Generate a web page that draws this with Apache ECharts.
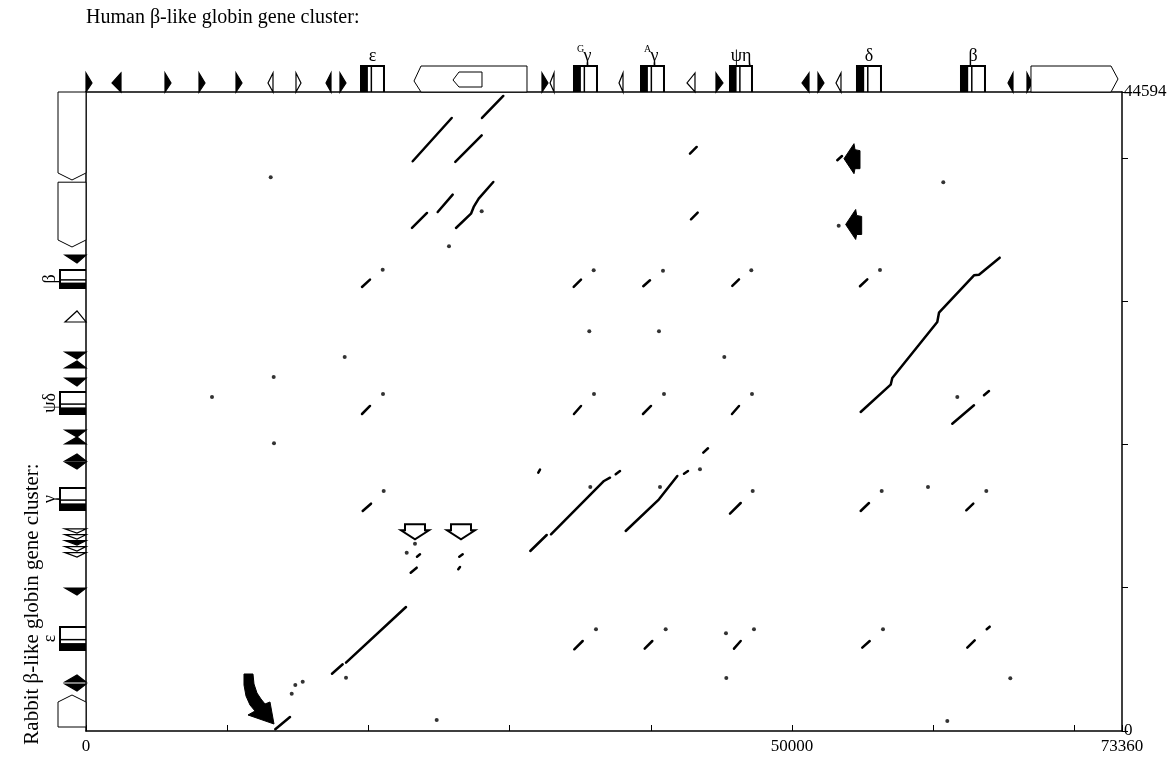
<!DOCTYPE html>
<html>
<head>
<meta charset="utf-8">
<script src="https://cdn.jsdelivr.net/npm/echarts@6/dist/echarts.min.js"></script>
<style>
html, body { margin: 0; padding: 0; background: #fff; }
#chart-container { width: 1176px; height: 758px; }
</style>
</head>
<body>
<div id="chart-container"></div>
<script>
// axis extents (bp)
var xMax = 73360;
var yMax = 44594;
var xLabelValues = [0, 50000, 73360];
var yLabelValues = [0, 44594];

// short matches: [human start, rabbit start, human end, rabbit end]
var segments = [
  [23134, 39759, 25895, 42781],
  [26150, 39711, 28019, 41574],
  [28041, 42781, 29549, 44317],
  [23084, 35104, 24146, 36151],
  [24904, 36221, 25966, 37428],
  [19544, 30987, 20110, 31497],
  [34534, 30987, 35051, 31497],
  [39462, 31036, 39937, 31454],
  [45765, 31057, 46239, 31524],
  [54807, 31036, 55324, 31524],
  [42769, 40290, 43243, 40757],
  [42840, 35712, 43314, 36172],
  [53200, 39829, 53532, 40129],
  [19544, 22123, 20110, 22682],
  [34554, 22123, 35051, 22682],
  [39441, 22123, 40008, 22682],
  [45743, 22123, 46239, 22682],
  [61343, 21447, 62879, 22731],
  [63587, 23428, 63941, 23729],
  [32027, 18027, 32148, 18237],
  [19593, 15354, 20181, 15863],
  [45602, 15166, 46359, 15912],
  [54856, 15354, 55444, 15912],
  [62334, 15403, 62830, 15863],
  [42344, 17957, 42628, 18145],
  [43711, 19423, 44044, 19730],
  [23438, 12164, 23651, 12332],
  [22992, 11048, 23417, 11397],
  [26433, 12164, 26674, 12332],
  [26362, 11285, 26483, 11446],
  [17419, 3999, 18176, 4655],
  [13404, 119, 14445, 977],
  [34577, 5702, 35171, 6281],
  [39562, 5744, 40100, 6281],
  [45885, 5744, 46359, 6281],
  [54970, 5814, 55494, 6281],
  [62405, 5814, 62929, 6330],
  [63779, 7098, 63991, 7279]
];

// longer alignments (polylines)
var alignEpsUpper = [[26200, 35104], [27262, 36103], [27453, 36570], [27807, 37149], [28841, 38315]];
var alignDeltaBeta = [[54856, 22263], [56981, 24168], [57094, 24636], [60280, 28544], [60401, 29193], [62879, 31803], [63233, 31845], [64699, 33032]];
var alignGGamma1 = [[31461, 12562], [32622, 13679]];
var alignGGamma2 = [[32927, 13728], [36680, 17448], [37104, 17678]];
var alignGGamma3 = [[37508, 17915], [37813, 18145]];
var alignAGamma = [[38216, 13958], [40574, 16170], [41871, 17796]];
var alignEps = [[18411, 4767], [22659, 8654]];

// single dots
var dots = [
  [28019, 36270], [25704, 33827], [13079, 38643], [21009, 32194], [35950, 32152],
  [35639, 27895], [18318, 26101], [13291, 24706], [8922, 23310],
  [21031, 23519], [35971, 23519], [40928, 23519], [47159, 23519],
  [53299, 35265], [60705, 38294], [40857, 32125], [47110, 32152], [56223, 32173],
  [40574, 27895], [45198, 26101], [61697, 23310],
  [13312, 20079], [21080, 16750], [23296, 13072], [22709, 12444], [35710, 17029],
  [18411, 3720], [15345, 3441], [14821, 3210], [14566, 2603], [24833, 768], [36113, 7098],
  [43477, 18264], [40645, 17029], [47209, 16750], [56343, 16750], [59622, 17029],
  [63750, 16750], [41048, 7098], [47301, 7098], [45318, 6819], [56436, 7098],
  [45340, 3699], [65450, 3678], [60989, 698]
];

// gene maps
var humanGenes = [
  { name: 'ε', sup: '', start: 19473, end: 21101 },
  { name: 'γ', sup: 'G', start: 34555, end: 36184 },
  { name: 'γ', sup: 'A', start: 39300, end: 40928 },
  { name: 'ψη', sup: '', start: 45601, end: 47159 },
  { name: 'δ', sup: '', start: 54594, end: 56294 },
  { name: 'β', sup: '', start: 61959, end: 63658 }
];
// [start, end, kind]  R/L filled, oR/oL open, LL/LR long element, LLi inner
var humanRepeats = [
  [0, 354, 'R'], [1912, 2478, 'L'], [5594, 5948, 'R'], [8002, 8356, 'R'], [10622, 10976, 'R'],
  [12958, 13241, 'oL'], [14870, 15153, 'oR'], [17065, 17348, 'L'], [17985, 18339, 'R'],
  [23226, 31227, 'LL'], [25987, 28041, 'LLi'], [32289, 32643, 'R'], [32930, 33140, 'oL'],
  [37813, 38025, 'oL'], [42628, 43123, 'oL'], [44610, 45035, 'R'],
  [50771, 51196, 'L'], [51833, 52187, 'R'], [53178, 53461, 'oL'],
  [65357, 65640, 'L'], [66632, 66915, 'R'], [66915, 73077, 'LR']
];
var rabbitGenes = [
  { name: 'ε', start: 5653, end: 7258 },
  { name: 'γ', start: 15424, end: 16959 },
  { name: 'ψδ', start: 22123, end: 23659 },
  { name: 'β', start: 30917, end: 32173 }
];
var rabbitRepeats = [
  [279, 2512, 'LU'], [2861, 3280, 'D'], [3420, 3838, 'U'], [9561, 9980, 'D'],
  [12213, 12450, 'oD'], [12632, 12870, 'oD'], [13051, 13290, 'D'], [13469, 13700, 'oD'], [13888, 14100, 'oD'],
  [18355, 18773, 'D'], [18843, 19262, 'U'], [20030, 20448, 'U'], [20588, 21007, 'D'],
  [24147, 24636, 'D'], [25334, 25752, 'U'], [26032, 26450, 'D'], [28544, 29242, 'oU'],
  [32731, 33220, 'D'], [33778, 38300, 'LD'], [38454, 44594, 'LD']
];

// annotation arrows (tip positions)
var filledArrows = [[53674, 39941], [53794, 35349]];
var openArrows = [[23296, 13379], [26554, 13379]];
var curvedArrows = [[13312, 489]];

var serif = '"Liberation Serif", "DejaVu Serif", serif';

var dom = document.getElementById('chart-container');
var myChart = echarts.init(dom, null, { renderer: 'canvas' });

function poly(points, fill, stroke, lw) {
  return { type: 'polygon', shape: { points: points }, style: { fill: fill, stroke: stroke, lineWidth: lw || 1.2 } };
}

function renderSegment(params, api) {
  var a = api.coord([api.value(0), api.value(1)]);
  var b = api.coord([api.value(2), api.value(3)]);
  return {
    type: 'line',
    shape: { x1: a[0], y1: a[1], x2: b[0], y2: b[1] },
    style: { stroke: '#000', lineWidth: 2.5, lineCap: 'round' }
  };
}

function renderHumanRepeat(params, api) {
  var r = humanRepeats[params.dataIndex];
  var x1 = api.coord([r[0], yMax])[0];
  var x2 = api.coord([r[1], yMax])[0];
  var top = api.coord([0, yMax])[1];
  var k = r[2];
  if (k === 'R' || k === 'oR') {
    return poly([[x1, top - 19], [x2 + 1, top - 9], [x1, top]], k === 'R' ? '#000' : '#fff', '#000', 1.2);
  }
  if (k === 'L' || k === 'oL') {
    return poly([[x2, top - 19], [x1 - 1, top - 9], [x2, top]], k === 'L' ? '#000' : '#fff', '#000', 1.2);
  }
  if (k === 'LL') {
    return poly([[x1, top - 11], [x1 + 7, top - 26], [x2, top - 26], [x2, top], [x1 + 7, top]], '#fff', '#000', 1);
  }
  if (k === 'LLi') {
    return poly([[x1, top - 12], [x1 + 6, top - 20], [x2, top - 20], [x2, top - 5], [x1 + 6, top - 5]], '#fff', '#000', 1);
  }
  return poly([[x1, top], [x1, top - 26], [x2 - 7, top - 26], [x2, top - 13], [x2 - 7, top]], '#fff', '#000', 1);
}

function renderHumanGene(params, api) {
  var g = humanGenes[params.dataIndex];
  var x1 = api.coord([g.start, yMax])[0];
  var x2 = api.coord([g.end, yMax])[0];
  var top = api.coord([0, yMax])[1];
  var w = x2 - x1;
  var mid = (x1 + x2) / 2;
  var children = [
    { type: 'polyline', shape: { points: [[x1, top], [x1, top - 26], [x2, top - 26], [x2, top]] }, style: { stroke: '#000', lineWidth: 2, fill: null } },
    { type: 'rect', shape: { x: x1, y: top - 26, width: w * 0.3, height: 26 }, style: { fill: '#000' } },
    { type: 'line', shape: { x1: x1 + w * 0.45, y1: top - 26, x2: x1 + w * 0.45, y2: top }, style: { stroke: '#000', lineWidth: 1.5 } },
    { type: 'text', x: mid + (g.sup ? 2 : 0), y: top - 36, style: { text: g.name, font: '18px ' + serif, fill: '#000', align: 'center', verticalAlign: 'middle' } }
  ];
  if (g.sup) {
    children.push({ type: 'text', x: mid - 5, y: top - 43, style: { text: g.sup, font: '10px ' + serif, fill: '#000', align: 'center', verticalAlign: 'middle' } });
  }
  return { type: 'group', children: children };
}

function renderRabbitRepeat(params, api) {
  var r = rabbitRepeats[params.dataIndex];
  var yb = api.coord([0, r[0]])[1];
  var yt = api.coord([0, r[1]])[1];
  var L = api.coord([0, 0])[0];
  var k = r[2];
  if (k === 'D' || k === 'oD') {
    return poly([[L - 21, yt], [L, yt], [L - 9, yb + 1]], k === 'D' ? '#000' : '#fff', '#000', 1.2);
  }
  if (k === 'U' || k === 'oU') {
    return poly([[L - 21, yb], [L, yb], [L - 9, yt - 1]], k === 'U' ? '#000' : '#fff', '#000', 1.2);
  }
  if (k === 'LD') {
    return poly([[L, yt], [L - 28, yt], [L - 28, yb - 7], [L - 14, yb], [L, yb - 7]], '#fff', '#000', 1);
  }
  return poly([[L, yb], [L - 28, yb], [L - 28, yt + 7], [L - 14, yt], [L, yt + 7]], '#fff', '#000', 1);
}

function renderRabbitGene(params, api) {
  var g = rabbitGenes[params.dataIndex];
  var yb = api.coord([0, g.start])[1];
  var yt = api.coord([0, g.end])[1];
  var L = api.coord([0, 0])[0];
  var h = yb - yt;
  return {
    type: 'group',
    children: [
      { type: 'polyline', shape: { points: [[L, yt], [L - 26, yt], [L - 26, yb], [L, yb]] }, style: { stroke: '#000', lineWidth: 2, fill: null } },
      { type: 'rect', shape: { x: L - 26, y: yb - h * 0.3, width: 26, height: h * 0.3 }, style: { fill: '#000' } },
      { type: 'line', shape: { x1: L - 26, y1: yb - h * 0.45, x2: L, y2: yb - h * 0.45 }, style: { stroke: '#000', lineWidth: 1.5 } },
      { type: 'text', x: L - 36, y: (yt + yb) / 2, rotation: Math.PI / 2, style: { text: g.name, font: '18px ' + serif, fill: '#000', align: 'center', verticalAlign: 'middle' } }
    ]
  };
}

function renderFilledArrow(params, api) {
  var p = api.coord([api.value(0), api.value(1)]);
  var x = p[0], y = p[1];
  return poly([[x, y], [x + 10, y - 15], [x + 11, y - 9], [x + 16, y - 8], [x + 16, y + 10], [x + 11, y + 10], [x + 10, y + 15]], '#000', '#000', 1);
}

function renderOpenArrow(params, api) {
  var p = api.coord([api.value(0), api.value(1)]);
  var x = p[0], y = p[1];
  return poly([[x - 10, y - 15], [x + 10, y - 15], [x + 10, y - 9], [x + 14, y - 9], [x, y], [x - 14, y - 9], [x - 10, y - 9]], '#fff', '#000', 2);
}

function renderCurvedArrow(params, api) {
  var p = api.coord([api.value(0), api.value(1)]);
  var x = p[0], y = p[1];
  var pts = [[-21, -50], [-20, -40], [-17, -31], [-13, -25], [-9, -20], [-4, -22], [0, 0],
    [-26, -9], [-19, -13], [-24, -19], [-28, -28], [-30, -39], [-30, -50]];
  return poly(pts.map(function (q) { return [x + q[0], y + q[1]]; }), '#000', '#000', 1);
}

function lineSeries(data) {
  return {
    type: 'line', data: data, showSymbol: false, silent: true,
    lineStyle: { color: '#000', width: 2.5, cap: 'round' }
  };
}

var option = {
  animation: false,
  backgroundColor: '#fff',
  grid: { left: 86, right: 54, top: 92, bottom: 27, show: false },
  graphic: [
    { type: 'text', left: 86, top: 8, style: { text: 'Human β-like globin gene cluster:', font: '20px ' + serif, fill: '#000' } },
    { type: 'text', x: 32, y: 604, rotation: Math.PI / 2, style: { text: 'Rabbit β-like globin gene cluster:', font: '21px ' + serif, fill: '#000', align: 'center', verticalAlign: 'middle' } }
  ],
  xAxis: [
    {
      type: 'value', min: 0, max: xMax, interval: 10000, position: 'bottom',
      axisLine: { onZero: false, lineStyle: { color: '#000', width: 1.5 } },
      axisTick: { inside: true, length: 6, lineStyle: { color: '#000', width: 1 } },
      splitLine: { show: false },
      axisLabel: {
        color: '#000', fontFamily: serif, fontSize: 17, margin: 7, showMaxLabel: true, showMinLabel: true,
        formatter: function (v) { return xLabelValues.indexOf(v) >= 0 ? String(v) : ''; }
      }
    },
    {
      type: 'value', min: 0, max: xMax, position: 'top',
      axisLine: { onZero: false, lineStyle: { color: '#000', width: 1.5 } },
      axisTick: { show: false }, axisLabel: { show: false }, splitLine: { show: false }
    }
  ],
  yAxis: [
    {
      type: 'value', min: 0, max: yMax, interval: 10000, position: 'right',
      axisLine: { onZero: false, lineStyle: { color: '#000', width: 1.5 } },
      axisTick: { inside: false, length: 6, lineStyle: { color: '#000', width: 1 } },
      splitLine: { show: false },
      axisLabel: {
        color: '#000', fontFamily: serif, fontSize: 17, margin: 2, showMaxLabel: true, showMinLabel: true,
        formatter: function (v) { return yLabelValues.indexOf(v) >= 0 ? String(v) : ''; }
      }
    },
    {
      type: 'value', min: 0, max: yMax, position: 'left',
      axisLine: { onZero: false, lineStyle: { color: '#000', width: 1.5 } },
      axisTick: { show: false }, axisLabel: { show: false }, splitLine: { show: false }
    }
  ],
  series: [
    { type: 'custom', data: segments, renderItem: renderSegment, clip: false, silent: true },
    lineSeries(alignEpsUpper),
    lineSeries(alignDeltaBeta),
    lineSeries(alignGGamma1),
    lineSeries(alignGGamma2),
    lineSeries(alignGGamma3),
    lineSeries(alignAGamma),
    lineSeries(alignEps),
    { type: 'scatter', data: dots, symbolSize: 4, itemStyle: { color: '#000' }, silent: true },
    { type: 'custom', data: humanRepeats.map(function (r) { return [r[0], r[1]]; }), renderItem: renderHumanRepeat, clip: false, silent: true },
    { type: 'custom', data: humanGenes.map(function (g) { return [g.start, g.end]; }), renderItem: renderHumanGene, clip: false, silent: true },
    { type: 'custom', data: rabbitRepeats.map(function (r) { return [r[0], r[1]]; }), renderItem: renderRabbitRepeat, clip: false, silent: true },
    { type: 'custom', data: rabbitGenes.map(function (g) { return [g.start, g.end]; }), renderItem: renderRabbitGene, clip: false, silent: true },
    { type: 'custom', data: filledArrows, renderItem: renderFilledArrow, clip: false, silent: true },
    { type: 'custom', data: openArrows, renderItem: renderOpenArrow, clip: false, silent: true },
    { type: 'custom', data: curvedArrows, renderItem: renderCurvedArrow, clip: false, silent: true }
  ]
};

if (option && typeof option === 'object') {
  myChart.setOption(option);
}

window.addEventListener('resize', myChart.resize);
</script>
</body>
</html>
